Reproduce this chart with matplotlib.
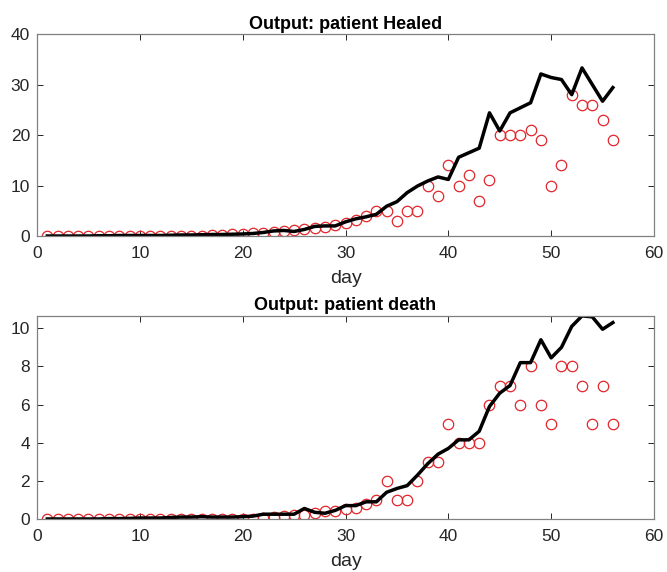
import matplotlib.pyplot as plt
import numpy as np

plt.rcParams['font.family'] = ['Liberation Sans', 'DejaVu Sans']

days = np.arange(1, 57)

# observed (red circles) and model output (black line)
healed_obs = [0, 0, 0, 0, 0, 0, 0, 0, 0, 0, 0, 0, 0, 0.1, 0.1, 0.1, 0.2, 0.2, 0.3, 0.4,
              0.5, 0.6, 0.8, 0.9, 1.1, 1.3, 1.5, 1.8, 2.2, 2.6, 3.2, 4, 5, 5, 3, 5, 5, 10, 8, 14,
              10, 12, 7, 11, 20, 20, 20, 21, 19, 10, 14, 28, 26, 26, 23, 19]
healed_fit = [0, 0, 0, 0, 0, 0.05, 0.05, 0.1, 0.1, 0.1, 0.1, 0.1, 0.15, 0.2, 0.2, 0.25, 0.3, 0.3, 0.35, 0.4,
              0.5, 0.7, 1.0, 1.1, 0.9, 1.3, 1.9, 2.0, 2.0, 2.8, 3.4, 3.8, 4.3, 5.9, 6.8, 8.6, 9.9, 10.9, 11.7, 11.2,
              15.6, 16.5, 17.4, 24.4, 20.8, 24.4, 25.4, 26.4, 32.1, 31.4, 31.0, 28.0, 33.3, 30.0, 26.7, 29.4]

death_obs = [0, 0, 0, 0, 0, 0, 0, 0, 0, 0, 0, 0, 0, 0, 0, 0, 0, 0, 0, 0,
             0, 0.05, 0.1, 0.15, 0.2, 0.2, 0.3, 0.4, 0.4, 0.5, 0.6, 0.8, 1, 2, 1, 1, 2, 3, 3, 5,
             4, 4, 4, 6, 7, 7, 6, 8, 6, 5, 8, 8, 7, 5, 7, 5]
death_fit = [0, 0, 0, 0, 0, 0, 0.02, 0.02, 0.03, 0.05, 0.05, 0.05, 0.08, 0.1, 0.1, 0.12, 0.1, 0.1, 0.1, 0.12,
             0.15, 0.25, 0.25, 0.25, 0.25, 0.55, 0.35, 0.3, 0.45, 0.7, 0.7, 0.9, 0.9, 1.4, 1.6, 1.75, 2.3, 2.9, 3.4, 3.7,
             4.15, 4.15, 4.6, 5.9, 6.6, 7.0, 8.2, 8.2, 9.4, 8.45, 9.0, 10.1, 10.65, 10.6, 9.95, 10.3]

panels = [
    ('Output: patient Healed', healed_obs, healed_fit, [0, 40], [0, 10, 20, 30, 40]),
    ('Output: patient death', death_obs, death_fit, [0, 10.65], [0, 2, 4, 6, 8, 10]),
]

fig = plt.figure(figsize=(6.67, 5.72), dpi=100)
boxes = [[0.0555, 0.5874, 0.925, 0.353], [0.0555, 0.0927, 0.925, 0.355]]
edge = '#262626'

for box, (title, obs, fit, ylim, yticks) in zip(boxes, panels):
    ax = fig.add_axes(box)
    ax.plot(days, obs, 'o', mfc='none', mec='#e0262b', ms=7.5, mew=0.9)
    ax.plot(days, fit, '-', color='black', lw=2.5)
    ax.set_xlim(0, 60)
    ax.set_ylim(ylim)
    ax.set_xticks([0, 10, 20, 30, 40, 50, 60])
    ax.set_yticks(yticks)
    ax.tick_params(direction='in', length=4, width=0.7, top=True, right=True,
                   labelsize=12.5, colors=edge)
    ax.tick_params(axis='x', pad=7)
    ax.tick_params(axis='y', pad=5)
    for s in ax.spines.values():
        s.set_color('#808080')
        s.set_linewidth(0.9)
    ax.set_xlabel('day', fontsize=14, color=edge, labelpad=7)
    ax.set_title(title, fontsize=13, fontweight='bold', color='black', pad=4)

fig.savefig('out.png', dpi=100)
